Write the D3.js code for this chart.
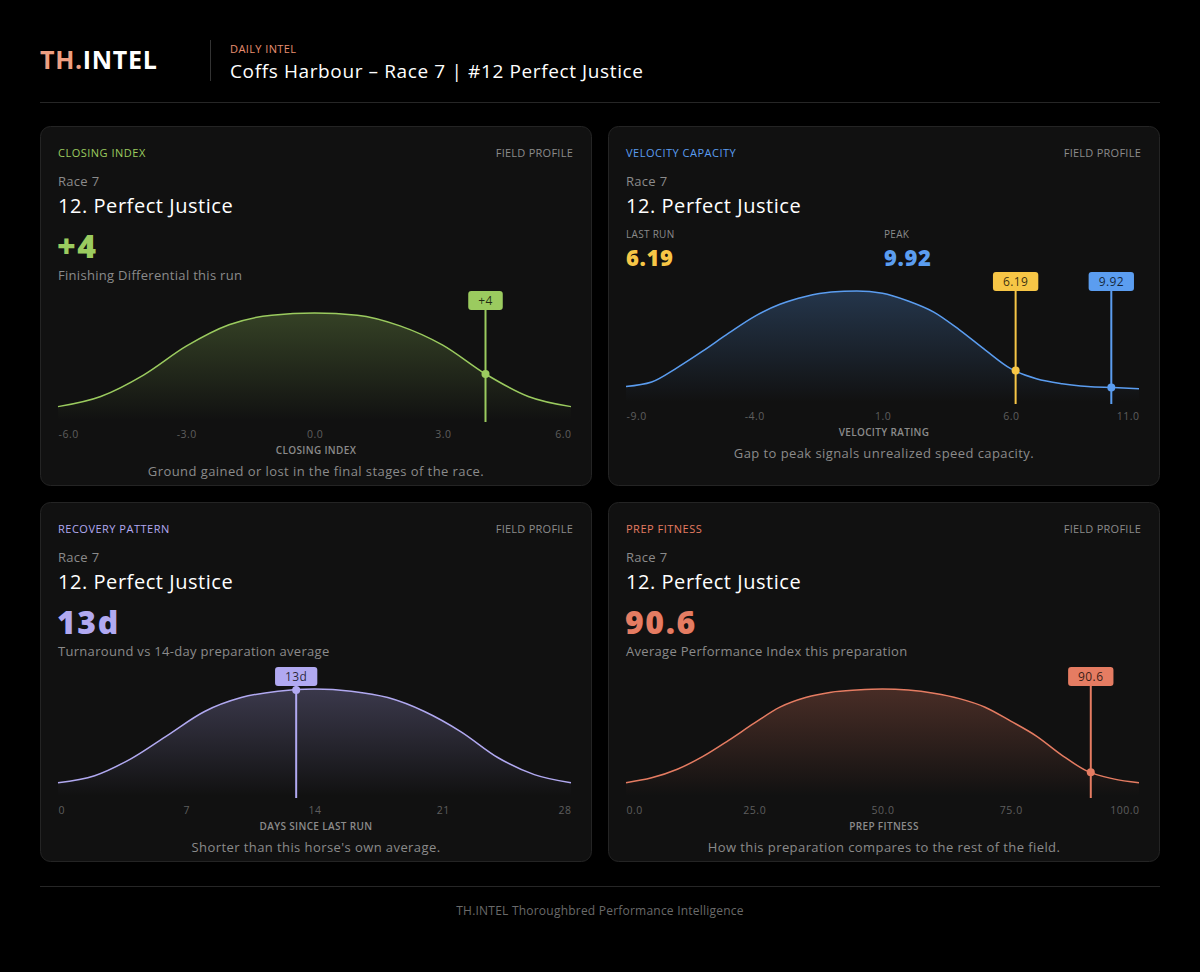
<!DOCTYPE html>
<html><head><meta charset="utf-8">
<script src="https://cdn.jsdelivr.net/npm/d3@7"></script>
<style>
html,body{margin:0;padding:0;background:#000;}
svg{display:block;font-family:'Open Sans',sans-serif;}
</style></head><body>
<svg id="c" width="1200" height="972"></svg>
<script>
// ---------- DATA ----------
const horseName = "12. Perfect Justice";
const raceLabel = "Race 7";
const headerKicker = "DAILY INTEL";
const headerTitle = "Coffs Harbour \u2013 Race 7 | #12 Perfect Justice";
const footerText = "TH.INTEL Thoroughbred Performance Intelligence";

// Closing index field distribution (share of peak)
const closingX = [-6, -5, -4, -3, -2, -1, 0, 1, 2, 3, 4, 5, 6];
const closingD = [0.125, 0.22, 0.42, 0.69, 0.89, 0.98, 1.0, 0.98, 0.88, 0.70, 0.43, 0.22, 0.125];
const closingTicks = [-6, -3, 0, 3, 6];
const closingValue = 4;

// Velocity rating field distribution
const velocityX = [-9, -8, -7, -6, -5, -4, -3, -2, -1, 0, 1, 2, 3, 4, 5, 6, 7, 8, 9, 10, 11];
const velocityD = [0.14, 0.18, 0.31, 0.46, 0.62, 0.77, 0.88, 0.95, 0.99, 1.0, 0.98, 0.91, 0.81, 0.65, 0.47, 0.30, 0.21, 0.165, 0.14, 0.13, 0.12];
const velocityTicks = [-9, -4, 1, 6, 11];
const velocityLastRun = 6.19;
const velocityPeak = 9.92;

// Days since last run distribution
const recoveryX = [0, 2, 4, 6, 8, 10, 12, 14, 16, 18, 20, 22, 24, 26, 28];
const recoveryD = [0.124, 0.19, 0.35, 0.57, 0.79, 0.92, 0.98, 1.0, 0.98, 0.92, 0.79, 0.60, 0.36, 0.20, 0.124];
const recoveryTicks = [0, 7, 14, 21, 28];
const recoveryValue = 13;

// Prep fitness distribution
const prepX = [0, 5, 10, 15, 20, 25, 30, 35, 40, 45, 50, 55, 60, 65, 70, 75, 80, 85, 90, 95, 100];
const prepD = [0.124, 0.17, 0.25, 0.37, 0.52, 0.68, 0.83, 0.92, 0.97, 0.99, 1.0, 0.99, 0.96, 0.91, 0.83, 0.70, 0.56, 0.38, 0.23, 0.16, 0.124];
const prepTicks = [0, 25, 50, 75, 100];
const prepValue = 90.6;

// ---------- COLOURS ----------
const C = {
  green: "#9bcb5f", blue: "#5b9df0", yellow: "#f7c646", purple: "#b1a9f1", salmon: "#e57c62",
  muted: "#8b8b8b", dim: "#5e5e5e", panel: "#111111", border: "#242424"
};
const fmt1 = v => d3.format(".1f")(v).replace("\u2212", "-");
const fmt0 = v => d3.format("d")(v).replace("\u2212", "-");

const panels = [
  { px: 40, py: 126, accent: C.green, kicker: "CLOSING INDEX", layout: "big",
    big: "+4", desc: "Finishing Differential this run",
    xs: closingX, ds: closingD, ticks: closingTicks, tf: fmt1, domain: [-6, 6],
    markers: [{ v: closingValue, label: "+4", color: C.green }],
    axisTitle: "CLOSING INDEX", caption: "Ground gained or lost in the final stages of the race." },
  { px: 608, py: 126, accent: C.blue, kicker: "VELOCITY CAPACITY", layout: "dual",
    stats: [{ label: "LAST RUN", value: "6.19", color: C.yellow }, { label: "PEAK", value: "9.92", color: C.blue }],
    xs: velocityX, ds: velocityD, ticks: velocityTicks, tf: fmt1, domain: [-9, 11],
    markers: [{ v: velocityLastRun, label: "6.19", color: C.yellow }, { v: velocityPeak, label: "9.92", color: C.blue }],
    axisTitle: "VELOCITY RATING", caption: "Gap to peak signals unrealized speed capacity." },
  { px: 40, py: 502, accent: C.purple, kicker: "RECOVERY PATTERN", layout: "big",
    big: "13d", desc: "Turnaround vs 14-day preparation average",
    xs: recoveryX, ds: recoveryD, ticks: recoveryTicks, tf: fmt0, domain: [0, 28],
    markers: [{ v: recoveryValue, label: "13d", color: C.purple }],
    axisTitle: "DAYS SINCE LAST RUN", caption: "Shorter than this horse's own average." },
  { px: 608, py: 502, accent: C.salmon, kicker: "PREP FITNESS", layout: "big",
    big: "90.6", desc: "Average Performance Index this preparation",
    xs: prepX, ds: prepD, ticks: prepTicks, tf: fmt1, domain: [0, 100],
    markers: [{ v: prepValue, label: "90.6", color: C.salmon }],
    axisTitle: "PREP FITNESS", caption: "How this preparation compares to the rest of the field." }
];

const svg = d3.select("#c");
const defs = svg.append("defs");
svg.append("rect").attr("width", 1200).attr("height", 972).attr("fill", "#000");

// ---------- HEADER ----------
const logo = svg.append("text").attr("x", 40).attr("y", 69)
  .attr("font-size", 25).attr("font-weight", 700).attr("letter-spacing", 0.7);
logo.append("tspan").attr("fill", "#ee9f82").text("TH.");
logo.append("tspan").attr("fill", "#ffffff").text("INTEL");
svg.append("line").attr("x1", 210.5).attr("x2", 210.5).attr("y1", 40).attr("y2", 81).attr("stroke", "#333");
svg.append("text").attr("x", 230).attr("y", 52.5).attr("font-size", 11).attr("font-weight", 500)
  .attr("letter-spacing", 0.4).attr("fill", "#e98f70").text(headerKicker);
svg.append("text").attr("x", 230).attr("y", 77.5).attr("font-size", 19).attr("font-weight", 500)
  .attr("letter-spacing", 0.62).attr("fill", "#fff").text(headerTitle);
svg.append("line").attr("x1", 40).attr("x2", 1160).attr("y1", 102.5).attr("y2", 102.5).attr("stroke", "#262626");

// ---------- FOOTER ----------
svg.append("line").attr("x1", 40).attr("x2", 1160).attr("y1", 886.5).attr("y2", 886.5).attr("stroke", "#262626");
svg.append("text").attr("x", 600).attr("y", 915).attr("text-anchor", "middle").attr("font-size", 12)
  .attr("letter-spacing", 0.22).attr("fill", "#6a6a6a").text(footerText);

function densAt(xs, ds, v) {
  const i = Math.min(Math.max(d3.bisectRight(xs, v), 1), xs.length - 1);
  const t = (v - xs[i - 1]) / (xs[i] - xs[i - 1]);
  return ds[i - 1] + t * (ds[i] - ds[i - 1]);
}

panels.forEach((p, idx) => {
  const g = svg.append("g").attr("transform", `translate(${p.px},${p.py})`);
  const W = 552, H = 360;
  g.append("rect").attr("x", 0.5).attr("y", 0.5).attr("width", W - 1).attr("height", H - 1)
    .attr("rx", 10).attr("fill", C.panel).attr("stroke", C.border);

  g.append("text").attr("x", 18).attr("y", 30.5).attr("font-size", 11).attr("font-weight", 500)
    .attr("letter-spacing", 0.5).attr("fill", p.accent).text(p.kicker);
  g.append("text").attr("x", W - 19).attr("y", 30.5).attr("font-size", 11).attr("font-weight", 500)
    .attr("letter-spacing", 0.25).attr("text-anchor", "end").attr("fill", C.muted).text("FIELD PROFILE");
  g.append("text").attr("x", 18).attr("y", 60).attr("font-size", 13).attr("letter-spacing", 0.3)
    .attr("fill", C.muted).text(raceLabel);
  g.append("text").attr("x", 18).attr("y", 87).attr("font-size", 20).attr("font-weight", 500)
    .attr("letter-spacing", 0.55).attr("fill", "#fff").text(horseName);

  let L;
  if (p.layout === "big") {
    g.append("text").attr("x", 17).attr("y", 132).attr("font-size", 32).attr("font-weight", 800)
      .attr("letter-spacing", 1.6).attr("fill", p.accent).text(p.big);
    g.append("text").attr("x", 18).attr("y", 153.5).attr("font-size", 13).attr("letter-spacing", 0.3)
      .attr("fill", C.muted).text(p.desc);
    L = { top: 187, bottom: 294, box: 165, tick: 312, axis: 327.5, cap: 349.5 };
  } else {
    p.stats.forEach((s, i) => {
      const sx = 18 + i * 258;
      g.append("text").attr("x", sx).attr("y", 111.5).attr("font-size", 10).attr("font-weight", 500)
        .attr("letter-spacing", 0.3).attr("fill", C.muted).text(s.label);
      g.append("text").attr("x", sx).attr("y", 140).attr("font-size", 22).attr("font-weight", 800)
        .attr("letter-spacing", 0.6).attr("fill", s.color).text(s.value);
    });
    L = { top: 165, bottom: 276, box: 146, tick: 294, axis: 309.5, cap: 331.5 };
  }

  const x = d3.scaleLinear().domain(p.domain).range([18, 531]);
  const y = d3.scaleLinear().domain([0, d3.max(p.ds)]).range([L.bottom, L.top]);
  const pts = p.xs.map((v, i) => [v, p.ds[i]]);

  const gid = "grad" + idx;
  const grad = defs.append("linearGradient").attr("id", gid).attr("gradientUnits", "userSpaceOnUse")
    .attr("x1", 0).attr("x2", 0).attr("y1", L.top).attr("y2", L.bottom);
  grad.append("stop").attr("offset", 0).attr("stop-color", p.accent).attr("stop-opacity", 0.26);
  grad.append("stop").attr("offset", 0.55).attr("stop-color", p.accent).attr("stop-opacity", 0.12);
  grad.append("stop").attr("offset", 1).attr("stop-color", p.accent).attr("stop-opacity", 0.0);

  g.append("path").datum(pts)
    .attr("d", d3.area().x(d => x(d[0])).y0(L.bottom).y1(d => y(d[1])).curve(d3.curveMonotoneX))
    .attr("fill", `url(#${gid})`);
  g.append("path").datum(pts)
    .attr("d", d3.line().x(d => x(d[0])).y(d => y(d[1])).curve(d3.curveMonotoneX))
    .attr("fill", "none").attr("stroke", p.accent).attr("stroke-width", 1.5);

  // axis
  const ax = g.append("g").attr("transform", `translate(0,${L.tick - 12})`)
    .call(d3.axisBottom(x).tickValues(p.ticks).tickFormat(p.tf).tickSize(0).tickPadding(0));
  ax.select(".domain").remove();
  ax.selectAll("text").attr("fill", C.dim).attr("font-size", 10.5).attr("font-family", "'Open Sans',sans-serif")
    .attr("letter-spacing", 0.5).attr("dy", 0).attr("y", 12)
    .attr("text-anchor", (d, i, n) => i === 0 ? "start" : (i === n.length - 1 ? "end" : "middle"));
  g.append("text").attr("x", W / 2).attr("y", L.axis).attr("text-anchor", "middle").attr("font-size", 10)
    .attr("font-weight", 600).attr("letter-spacing", 0.35).attr("fill", C.muted).text(p.axisTitle);
  g.append("text").attr("x", W / 2).attr("y", L.cap).attr("text-anchor", "middle").attr("font-size", 13)
    .attr("letter-spacing", 0.42).attr("fill", C.muted).text(p.caption);

  // markers
  p.markers.forEach(m => {
    const mx = x(m.v);
    const my = y(densAt(p.xs, p.ds, m.v));
    g.append("line").attr("x1", mx).attr("x2", mx).attr("y1", L.box + 18).attr("y2", L.bottom + 2)
      .attr("stroke", m.color).attr("stroke-width", 2);
    g.append("circle").attr("cx", mx).attr("cy", my).attr("r", 4).attr("fill", m.color);
    const t = g.append("text").attr("x", mx).attr("y", L.box + 14).attr("text-anchor", "middle")
      .attr("font-size", 12).attr("font-weight", 500).attr("letter-spacing", 0.4)
      .attr("fill", "rgba(0,0,0,0.78)").text(m.label);
    const bw = t.node().getComputedTextLength() + 20;
    g.insert("rect", () => t.node()).attr("x", mx - bw / 2).attr("y", L.box).attr("width", bw).attr("height", 19)
      .attr("rx", 3).attr("fill", m.color);
  });
});
</script>
</body></html>
